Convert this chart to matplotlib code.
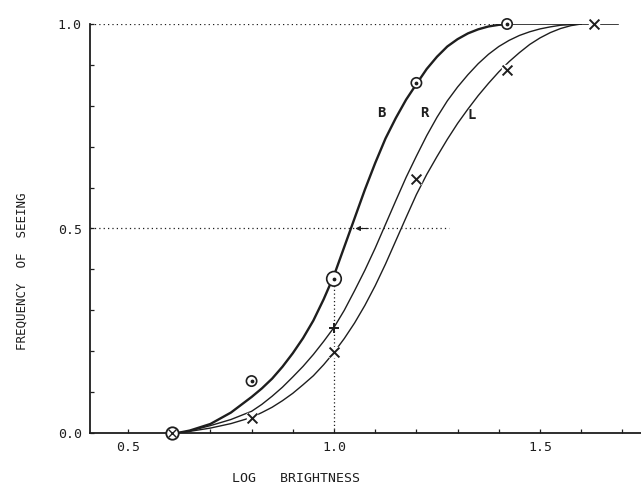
import matplotlib
matplotlib.use("Agg")
import matplotlib.pyplot as plt

# fitted curves
b_curve_x = [0.62, 0.65, 0.70, 0.75, 0.80, 0.825, 0.85, 0.875, 0.90, 0.925, 0.95, 0.975, 1.00,
             1.025, 1.05, 1.075, 1.10, 1.125, 1.15, 1.175, 1.20, 1.225, 1.25, 1.275, 1.30,
             1.325, 1.35, 1.375, 1.40, 1.43]
b_curve_y = [0.0, 0.006, 0.022, 0.05, 0.088, 0.109, 0.133, 0.162, 0.195, 0.232, 0.275, 0.327, 0.385,
             0.455, 0.525, 0.595, 0.66, 0.72, 0.77, 0.815, 0.853, 0.89, 0.92, 0.945, 0.963,
             0.977, 0.987, 0.994, 0.998, 1.0]
r_curve_x = [0.62, 0.65, 0.70, 0.75, 0.80, 0.825, 0.85, 0.875, 0.90, 0.925, 0.95, 0.975, 1.00,
             1.025, 1.05, 1.075, 1.10, 1.125, 1.15, 1.175, 1.20, 1.225, 1.25, 1.275, 1.30,
             1.325, 1.35, 1.375, 1.40, 1.425, 1.45, 1.475, 1.50, 1.525, 1.55, 1.60]
r_curve_y = [0.0, 0.005, 0.018, 0.033, 0.053, 0.07, 0.09, 0.112, 0.137, 0.163, 0.192, 0.224, 0.258,
             0.30, 0.348, 0.398, 0.452, 0.51, 0.568, 0.625, 0.677, 0.727, 0.772, 0.812, 0.846,
             0.876, 0.903, 0.926, 0.945, 0.96, 0.972, 0.981, 0.988, 0.993, 0.997, 1.0]
l_curve_x = [0.62, 0.65, 0.70, 0.75, 0.80, 0.825, 0.85, 0.875, 0.90, 0.925, 0.95, 0.975, 1.00,
             1.025, 1.05, 1.075, 1.10, 1.125, 1.15, 1.175, 1.20, 1.225, 1.25, 1.275, 1.30,
             1.325, 1.35, 1.375, 1.40, 1.425, 1.45, 1.475, 1.50, 1.525, 1.55, 1.575, 1.60]
l_curve_y = [0.0, 0.004, 0.012, 0.023, 0.038, 0.05, 0.063, 0.079, 0.097, 0.118, 0.14, 0.167, 0.197,
             0.231, 0.269, 0.312, 0.36, 0.413, 0.47, 0.527, 0.583, 0.632, 0.676, 0.718, 0.757,
             0.792, 0.825, 0.855, 0.883, 0.908, 0.93, 0.95, 0.966, 0.979, 0.989, 0.996, 1.0]

# observed points
b_pts_x = [0.80, 1.00, 1.20, 1.42]
b_pts_y = [0.127, 0.377, 0.856, 1.0]
r_pts_x = [1.00]
r_pts_y = [0.257]
l_pts_x = [0.80, 1.00, 1.20, 1.42, 1.63]
l_pts_y = [0.037, 0.198, 0.62, 0.888, 1.0]
common_x, common_y = 0.607, 0.0

curve_labels = ["B", "R", "L"]
label_x = [1.114, 1.218, 1.335]
label_y = [0.782, 0.782, 0.777]

ink = "#1e1e1e"
mono = "DejaVu Sans Mono"

fig = plt.figure(figsize=(6.41, 4.90), dpi=100)
ax = fig.add_axes([90 / 641, 57 / 490, 551 / 641, 409 / 490])
ax.set_xlim(0.408, 1.745)
ax.set_ylim(0.0, 1.0)

for s in ["top", "right"]:
    ax.spines[s].set_visible(False)
for s in ["left", "bottom"]:
    ax.spines[s].set_color(ink)
    ax.spines[s].set_linewidth(1.3)

ax.set_xticks([0.5, 1.0, 1.5])
ax.set_xticklabels(["0.5", "1.0", "1.5"], family=mono, fontsize=9.5, color=ink)
ax.set_xticks([0.6, 0.7, 0.8, 0.9, 1.1, 1.2, 1.3, 1.4, 1.6, 1.7], minor=True)
ax.set_yticks([0.0, 0.5, 1.0])
ax.set_yticklabels(["0.0", "0.5", "1.0"], family=mono, fontsize=9.5, color=ink)
ax.set_yticks([0.1, 0.2, 0.3, 0.4, 0.6, 0.7, 0.8, 0.9], minor=True)
ax.tick_params(which="both", direction="in", length=3, width=0.9, color=ink, pad=6)

# dotted guide lines
ax.plot([0.408, 1.40], [1.0, 1.0], ls=(0, (1, 2.5)), color=ink, lw=0.9)
ax.plot([0.408, 1.28], [0.5, 0.5], ls=(0, (1, 2.5)), color=ink, lw=0.9)
ax.plot([1.0, 1.0], [0.0, 0.377], ls=(0, (1, 2)), color=ink, lw=0.9)
ax.annotate("", xy=(1.045, 0.5), xytext=(1.09, 0.5),
            arrowprops=dict(arrowstyle="-|>", color=ink, lw=0.8, mutation_scale=7))

# curves
ax.plot(b_curve_x, b_curve_y, color=ink, lw=1.7, solid_capstyle="round")
ax.plot(r_curve_x, r_curve_y, color=ink, lw=1.0)
ax.plot(l_curve_x, l_curve_y, color=ink, lw=1.0)
ax.plot([1.42, 1.69], [1.0, 1.0], color=ink, lw=1.2)

# markers (white fill so the lines break around them)
ax.scatter(b_pts_x, b_pts_y, s=[55, 110, 55, 55], facecolor="white", edgecolor=ink,
           linewidth=1.2, zorder=4, clip_on=False)
ax.scatter(b_pts_x, b_pts_y, s=3, color=ink, zorder=5, clip_on=False)
ax.scatter(l_pts_x, l_pts_y, s=55, marker="s", color="white", zorder=3, clip_on=False)
ax.scatter(l_pts_x, l_pts_y, s=50, marker="x", color=ink, linewidth=1.4, zorder=5, clip_on=False)
ax.scatter(r_pts_x, r_pts_y, s=60, marker="+", color=ink, linewidth=1.4, zorder=5)
ax.scatter([common_x], [common_y], s=80, facecolor="white", edgecolor=ink,
           linewidth=1.3, zorder=4, clip_on=False)
ax.scatter([common_x], [common_y], s=30, marker="x", color=ink, linewidth=1.0,
           zorder=5, clip_on=False)

for lab, lx, ly in zip(curve_labels, label_x, label_y):
    ax.text(lx, ly, lab, family=mono, fontsize=10, fontweight="bold", color=ink,
            ha="center", va="center")

fig.text(296 / 641, 12 / 490, "LOG   BRIGHTNESS", family=mono, fontsize=9.5,
         color=ink, ha="center", va="center")
fig.text(22 / 641, 219 / 490, "FREQUENCY  OF  SEEING", family=mono, fontsize=9,
         color=ink, ha="center", va="center", rotation=90)

fig.savefig("out.png", dpi=100, facecolor="white")
